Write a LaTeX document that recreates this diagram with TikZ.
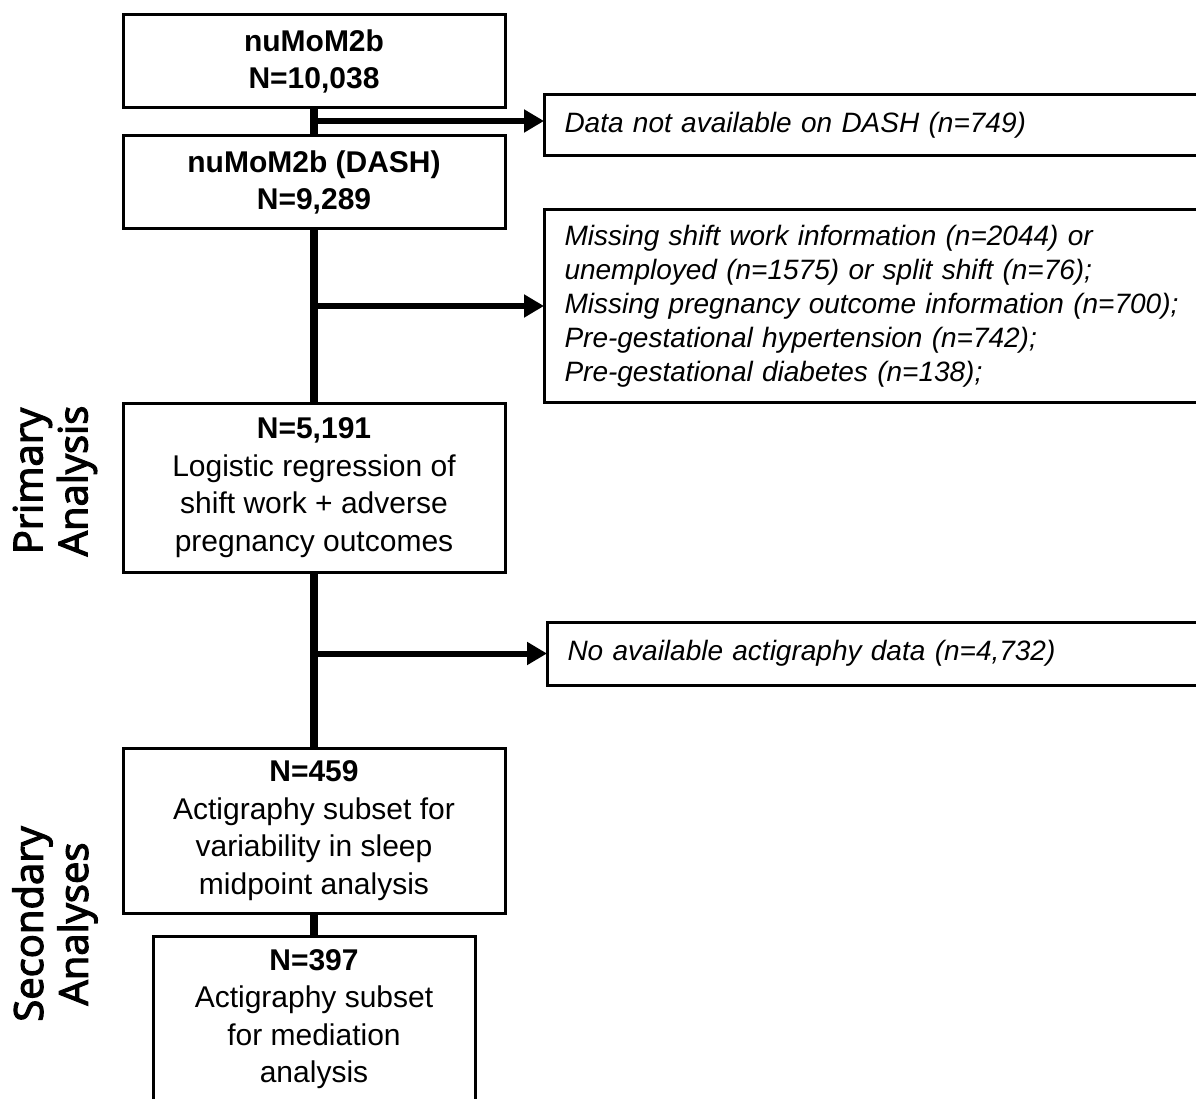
\documentclass[tikz,border=0pt]{standalone}
\usepackage{fontspec}
\setmainfont{Liberation Sans}
\newfontfamily\sidefont{Open Sans}[FakeBold=3]
\usetikzlibrary{arrows.meta}
\tikzset{
  mainbox/.style={draw=black, line width=3pt, fill=white, inner sep=0pt, align=center,
    font=\fontsize{30}{37.5}\selectfont},
  boxtext/.style={inner sep=0pt, align=center, font=\fontsize{30}{37.5}\selectfont},
  sidebox/.style={draw=black, line width=3pt, fill=white, anchor=west, inner xsep=20pt, inner ysep=0pt,
    text width=660pt, align=left, font=\fontsize{28}{34}\selectfont\itshape},
  trunk/.style={line width=8pt},
  exclarrow/.style={line width=6pt, -{Triangle[length=20pt,width=22pt]}, shorten >=-1pt},
  sidelabel/.style={rotate=90, align=center, font=\sidefont\fontsize{40}{45}\selectfont}
}
\begin{document}
\begin{tikzpicture}[x=1pt,y=-1pt]
\clip (0,0) rectangle (1196,1099);
\fill[white] (0,0) rectangle (1196,1099);
% main boxes
\node[mainbox, minimum width=382pt, minimum height=93pt] (b1) at (314,61.5) {\textbf{nuMoM2b}\\\textbf{N=10,038}};
\node[mainbox, minimum width=382pt, minimum height=93pt] (b2) at (314,182.5) {\textbf{nuMoM2b (DASH)}\\\textbf{N=9,289}};
\node[mainbox, minimum width=382pt, minimum height=169pt] (b3) at (314,487.5) {\textbf{N=5,191}\\Logistic regression of\\shift work + adverse\\pregnancy outcomes};
\node[mainbox, minimum width=382pt, minimum height=165pt] (b4) at (314,830.5) {\textbf{N=459}\\Actigraphy subset for\\variability in sleep\\midpoint analysis};
\node[mainbox, minimum width=322pt, minimum height=190pt, anchor=north] (b5) at (314,935) {};
\node[boxtext, anchor=north] (b5t) at (314,949) {\textbf{N=397}\\Actigraphy subset\\for mediation\\analysis};
% side boxes
\node[sidebox, minimum height=61pt] (e1) at (543,125.5) {Data not available on DASH (n=749)};
\node[sidebox, minimum height=192pt] (e2) at (543,306) {Missing shift work information (n=2044) or\\unemployed (n=1575) or split shift (n=76);\\Missing pregnancy outcome information (n=700);\\Pre-gestational hypertension (n=742);\\Pre-gestational diabetes (n=138);};
\node[sidebox, minimum height=63pt] (e3) at (546,653.5) {No available actigraphy data (n=4,732)};
% trunk
\draw[trunk] (b1.south) -- (b2.north);
\draw[trunk] (b2.south) -- (b3.north);
\draw[trunk] (b3.south) -- (b4.north);
\draw[trunk] (b4.south) -- (b5.north);
% exclusion arrows
\draw[exclarrow] (b1.south |- 0,121) -- (e1.west |- 0,121);
\draw[exclarrow] (b2.south |- e2.west) -- (e2.west);
\draw[exclarrow] (b3.south |- e3.west) -- (e3.west);
% side labels
\node[sidelabel] (pl) at (55,481) {Primary\\Analysis};
\node[sidelabel] (sl) at (55,924) {Secondary\\Analyses};
\end{tikzpicture}
\end{document}
